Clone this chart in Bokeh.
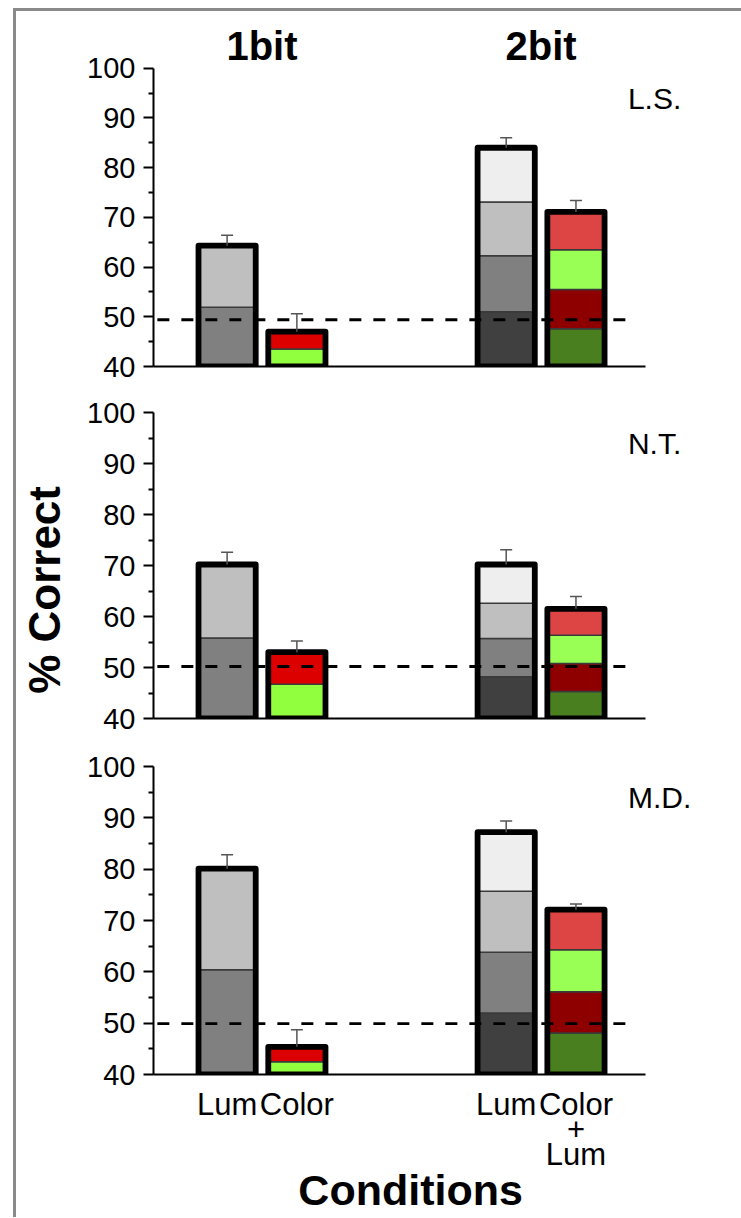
from bokeh.plotting import figure
from bokeh.layouts import column
from bokeh.models import (ColumnDataSource, Whisker, TeeHead, Label, FixedTicker,
                          Range1d, LinearAxis)
from bokeh.embed import file_html
from bokeh.resources import INLINE

# ---------------- data ----------------
subjects = ["L.S.", "N.T.", "M.D."]
groups = ["1bit", "2bit"]
conditions = ["Lum", "Color", "Lum", "Color\n+\nLum"]

# cumulative segment tops (% correct), bottom to top; every stack starts at 40
lum_1bit = [[51.9, 64.3], [55.8, 70.2], [60.4, 80.1]]
color_1bit = [[43.5, 47.0], [46.7, 53.0], [42.5, 45.4]]
lum_2bit = [[51.0, 62.3, 73.1, 84.0], [48.2, 55.7, 62.6, 70.2], [52.0, 63.8, 75.7, 87.2]]
colorlum_2bit = [[47.6, 55.5, 63.5, 71.1], [45.3, 50.8, 56.3, 61.5], [48.1, 56.1, 64.3, 72.1]]
# top of the error bar for each bar (Lum 1bit, Color 1bit, Lum 2bit, Color+Lum 2bit)
error_tops = [[66.4, 50.6, 86.0, 73.4], [72.6, 55.2, 73.1, 63.9], [82.8, 48.7, 89.4, 73.2]]
chance = [49.4, 50.2, 49.9]
y_ticks = [40, 50, 60, 70, 80, 90, 100]
y_base = 40

# ---------------- style ----------------
lum1_colors = ["#808080", "#bfbfbf"]
color1_colors = ["#92ff3e", "#dd0000"]
lum2_colors = ["#404040", "#808080", "#bfbfbf", "#eeeeee"]
colorlum2_colors = ["#4a7f20", "#8e0000", "#99ff55", "#dd4444"]
bar_x = [2, 4, 10, 12]
group_x = [3, 11]
bar_w = 1.64
dash_x = [0.0, 13.65]
X_START, X_AXIS_END, X_END = -0.11, 14.0, 16.0
FONT = "Liberation Sans"
NB = "\u00a0"

# per panel: (top border, frame height, bottom border, y range end)
geom = [(7, 348, 23, 110.0), (23, 306, 24, 100.0), (24, 308, 143, 100.0)]
FIG_W = 725
LEFT = 135
FRAME_W = 564
RIGHT = FIG_W - LEFT - FRAME_W


def make_panel(i):
    top_b, frame_h, bot_b, y_end = geom[i]
    p = figure(width=FIG_W, height=top_b + frame_h + bot_b,
               x_range=Range1d(X_START, X_END), y_range=Range1d(40, y_end),
               output_backend="svg", toolbar_location=None,
               min_border_left=LEFT, min_border_right=RIGHT,
               min_border_top=top_b, min_border_bottom=bot_b)
    p.outline_line_color = None
    p.grid.visible = False
    p.background_fill_color = "white"
    p.border_fill_color = "white"

    stacks = [lum_1bit[i], color_1bit[i], lum_2bit[i], colorlum_2bit[i]]
    palettes = [lum1_colors, color1_colors, lum2_colors, colorlum2_colors]
    xs, bots, tops, cols = [], [], [], []
    for x, stack, pal in zip(bar_x, stacks, palettes):
        prev = y_base
        for t, c in zip(stack, pal):
            xs.append(x); bots.append(prev); tops.append(t); cols.append(c)
            prev = t
    seg = ColumnDataSource(dict(x=xs, bottom=bots, top=tops, color=cols))
    p.vbar(x="x", bottom="bottom", top="top", width=bar_w, fill_color="color",
           line_color="#3a3a3a", line_width=1.5, source=seg)

    totals = [s[-1] for s in stacks]
    err = ColumnDataSource(dict(x=bar_x, top=totals, err=error_tops[i],
                                bottom=[y_base] * 4))
    wh = Whisker(base="x", lower="top", upper="err", source=err,
                 line_color="#555555", line_width=1.5,
                 upper_head=TeeHead(size=12, line_color="#555555", line_width=1.5),
                 lower_head=None, level="glyph")
    p.add_layout(wh)
    p.vbar(x="x", bottom="bottom", top="top", width=bar_w, fill_color=None,
           line_color="black", line_width=5.8, line_join="round", source=err)

    p.line(x=dash_x, y=[chance[i], chance[i]], line_color="black",
           line_width=2.8, line_dash="12 12")

    # y axis
    ya = p.yaxis[0]
    ya.bounds = (40, 100)
    ya.ticker = FixedTicker(ticks=y_ticks, minor_ticks=[t + 5 for t in y_ticks[:-1]])
    ya.axis_line_width = 2
    ya.major_tick_line_width = 2
    ya.minor_tick_line_width = 2
    ya.major_tick_out = 10
    ya.major_tick_in = 0
    ya.minor_tick_out = 5
    ya.minor_tick_in = 0
    ya.major_label_standoff = 8
    ya.major_label_text_font = FONT
    ya.major_label_text_font_size = "29px"
    ya.major_label_text_color = "black"

    # x axis
    xa = p.xaxis[0]
    xa.bounds = (X_START, X_AXIS_END)
    xa.axis_line_width = 2
    xa.major_tick_line_color = None
    xa.minor_tick_line_color = None
    if i < 2:
        xa.ticker = FixedTicker(ticks=[])
    else:
        xa.ticker = FixedTicker(ticks=bar_x)
        xa.major_label_overrides = {x: c for x, c in zip(bar_x, conditions)}
        xa.major_label_text_font = FONT
        xa.major_label_text_font_size = "31px"
        xa.major_label_text_color = "black"
        xa.major_label_text_line_height = 0.72
        xa.major_label_standoff = 6
        # title axis (no rule, no ticks) to carry "Conditions"
        ta = LinearAxis(ticker=FixedTicker(ticks=[]),
                        axis_line_color=None, major_tick_line_color=None,
                        minor_tick_line_color=None,
                        axis_label="Conditions" + NB * 4, axis_label_text_font=FONT,
                        axis_label_text_font_style="bold",
                        axis_label_text_font_size="43px",
                        axis_label_text_color="black", axis_label_standoff=-9)
        p.add_layout(ta, "below")

    if i == 1:
        la = LinearAxis(ticker=FixedTicker(ticks=[]),
                        axis_line_color=None, major_tick_line_color=None,
                        minor_tick_line_color=None,
                        axis_label="% Correct" + NB * 4, axis_label_text_font=FONT,
                        axis_label_text_font_style="bold",
                        axis_label_text_font_size="44px",
                        axis_label_text_color="black", axis_label_standoff=16)
        p.add_layout(la, "left")

    p.add_layout(Label(x=13.49, y=94, text=subjects[i], text_font=FONT,
                       text_font_size="30px", text_color="black",
                       text_align="left", text_baseline="alphabetic"))
    if i == 0:
        for gx, g in zip(group_x, groups):
            p.add_layout(Label(x=gx, y=104.5, text=g, text_font=FONT,
                               text_font_style="bold", text_font_size="40px",
                               text_color="black", text_align="center",
                               text_baseline="alphabetic"))
    return p


panels = [make_panel(i) for i in range(3)]
layout = column(*panels, spacing=0,
                styles={"border-left": "3px solid #8a8a8a",
                        "border-top": "3px solid #8a8a8a",
                        "margin-left": "13px", "margin-top": "8px"})

open("out.html", "w").write(file_html(layout, INLINE))
